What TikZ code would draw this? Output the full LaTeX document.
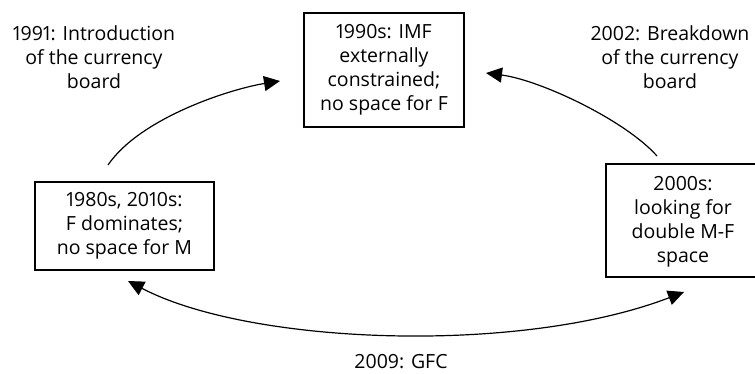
\documentclass[tikz,border=0pt]{standalone}
\usepackage{fontspec}
\setmainfont[Numbers=Proportional]{Open Sans}
\usetikzlibrary{arrows.meta}
\begin{document}
\begin{tikzpicture}[x=1pt,y=-1pt,
  box/.style={draw,line width=1.1pt,inner sep=0pt,align=center,font=\fontsize{19.5}{24}\selectfont},
  lbl/.style={align=center,inner sep=0pt,font=\fontsize{19.5}{24}\selectfont},
  conn/.style={line width=1.2pt,-{Triangle[length=16pt,width=15pt]}},
  conn2/.style={line width=1.2pt,{Triangle[length=16pt,width=15pt]}-{Triangle[length=16pt,width=15pt]}}]
\useasboundingbox (0,0) rectangle (755,373);
\node[box,minimum width=160pt,minimum height=114pt] (top) at (384,70) {1990s: IMF\\externally\\constrained;\\no space for F};
\node[box,minimum width=179pt,minimum height=88pt] (left) at (124.5,226) {1980s, 2010s:\\F dominates;\\no space for M};
\node[box,minimum width=151pt,minimum height=113pt] (right) at (681.5,220.5) {};
\node[lbl] (rtext) at (683,222) {2000s:\\looking for\\double M-F\\space};
\node[lbl] (l1991) at (94,57) {1991: Introduction\\of the currency\\board};
\node[lbl] (l2002) at (670,57) {2002: Breakdown\\of the currency\\board};
\node[lbl] (l2009) at (401,362) {2009: GFC};
\coordinate (a1s) at (108,165);
\coordinate (a1e) at (280,81);
\coordinate (a2s) at (657,156);
\coordinate (a2e) at (486,73);
\coordinate (a3s) at (128,281);
\coordinate (a3e) at (684,292);
\draw[conn] (a1s) .. controls (140,118) and (230,89) .. (a1e);
\draw[conn] (a2s) .. controls (625,120) and (540,80) .. (a2e);
\draw[conn2] (a3s) .. controls (250,345) and (520,355) .. (a3e);
\end{tikzpicture}
\end{document}
